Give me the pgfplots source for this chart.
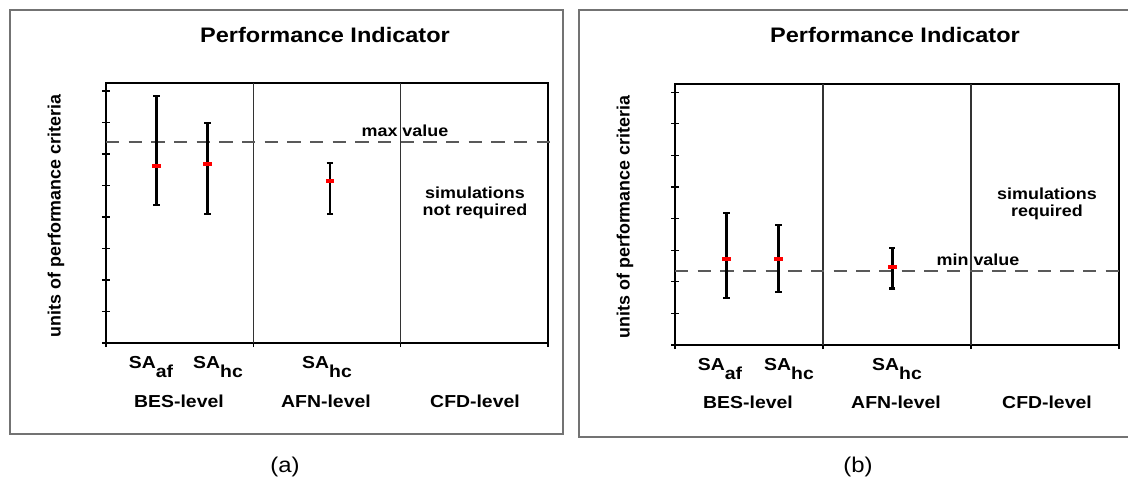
\documentclass[border=0pt]{standalone}
\usepackage{pgfplots}
\pgfplotsset{compat=1.18}
\usepackage{fontspec}
\setmainfont{Liberation Sans}[FakeStretch=1.12]
\newfontfamily\ylabfont{Liberation Sans}

% panel (a)
\pgfplotstableread{
x     y     ep    em
0.344 5.62  2.22  1.24
0.688 5.68  1.29  1.60
1.520 5.14  0.57  1.06
}\dataA
% panel (b)
\pgfplotstableread{
x     y     ep    em
0.349 2.72  1.45  1.24
0.698 2.72  1.08  1.05
1.468 2.48  0.60  0.69
}\dataB

\pgfplotsset{
  panel/.style={
    scale only axis, xmin=0, xmax=3, ymin=0, clip=false,
    axis line style={line width=2pt, black},
    xtick={0,1,2,3}, xticklabels={}, ytick={0,1,...,8}, yticklabels={},
    tick pos=left, tick align=center, major tick length=6pt,
    every tick/.style={black, line width=1pt},
  },
  sep/.style={black!80, line width=1pt},
  lim/.style={black!65, line width=1.5pt, dash pattern=on 10pt off 7pt},
  bars/.style={only marks, mark=-, mark size=3.2pt, mark options={red, line width=3.2pt},
    error bars/.cd, y dir=both, y explicit,
    error bar style={black, line width=1.9pt},
    error mark options={rotate=90, black, line width=1.6pt, mark size=2.4pt}},
}
\newcommand\SA[1]{SA\raisebox{-7pt}{#1}}

\begin{document}
\begin{tikzpicture}[x=0.75pt,y=0.75pt]
\draw[black!55, line width=1.5pt] (10,473) rectangle (563,49);
\draw[black!55, line width=1.5pt] (1140,473) -- (579,473) -- (579,46) -- (1140,46);

\begin{axis}[panel, at={(79.5pt,105pt)}, anchor=south west, width=331.5pt, height=195pt, ymax=8.25]
\addplot[sep] coordinates {(1,0) (1,8.25)};
\addplot[sep] coordinates {(2,0) (2,8.25)};
\addplot[lim] coordinates {(0,6.39) (3.07,6.39)};
\addplot[bars] table[x=x, y=y, y error plus=ep, y error minus=em] {\dataA};
\end{axis}

\begin{axis}[panel, at={(506.25pt,103.5pt)}, anchor=south west, width=333pt, height=195.75pt, ymax=8.26]
\addplot[sep] coordinates {(1,0) (1,8.26)};
\addplot[sep] coordinates {(2,0) (2,8.26)};
\addplot[lim] coordinates {(0,2.35) (3.06,2.35)};
\addplot[bars] table[x=x, y=y, y error plus=ep, y error minus=em] {\dataB};
\end{axis}

% texts panel (a)
\node[font=\bfseries\fontsize{15.75}{18}\selectfont] at (325,448) {Performance Indicator};
\node[rotate=90, font=\ylabfont\bfseries\fontsize{13.4}{16}\selectfont] at (56,267) {units of performance criteria};
\begin{scope}[every node/.style={anchor=base, font=\bfseries\fontsize{13}{15}\selectfont}]
\node at (151,115) {\SA{af}};
\node at (218,115) {\SA{hc}};
\node at (327,115) {\SA{hc}};
\node at (179,76) {BES-level};
\node at (326,76) {AFN-level};
\node at (475,76) {CFD-level};
\end{scope}
\begin{scope}[every node/.style={anchor=base, font=\bfseries\fontsize{12}{14}\selectfont}]
\node at (405,346) {max value};
\node at (475,285) {simulations};
\node at (475,268) {not required};
\end{scope}
\node[font=\fontsize{16}{18}\selectfont] at (285,16) {(a)};

% texts panel (b)
\node[font=\bfseries\fontsize{15.75}{18}\selectfont] at (895,448) {Performance Indicator};
\node[rotate=90, font=\ylabfont\bfseries\fontsize{13.4}{16}\selectfont] at (625,266) {units of performance criteria};
\begin{scope}[every node/.style={anchor=base, font=\bfseries\fontsize{13}{15}\selectfont}]
\node at (720,113) {\SA{af}};
\node at (789,113) {\SA{hc}};
\node at (897,113) {\SA{hc}};
\node at (748,75) {BES-level};
\node at (896,75) {AFN-level};
\node at (1047,75) {CFD-level};
\end{scope}
\begin{scope}[every node/.style={anchor=base, font=\bfseries\fontsize{12}{14}\selectfont}]
\node at (978,218) {min value};
\node at (1047,284) {simulations};
\node at (1047,267) {required};
\end{scope}
\node[font=\fontsize{16}{18}\selectfont] at (858,16) {(b)};

\pgfresetboundingbox
\path (0,0) rectangle (1128,483);
\end{tikzpicture}
\end{document}
